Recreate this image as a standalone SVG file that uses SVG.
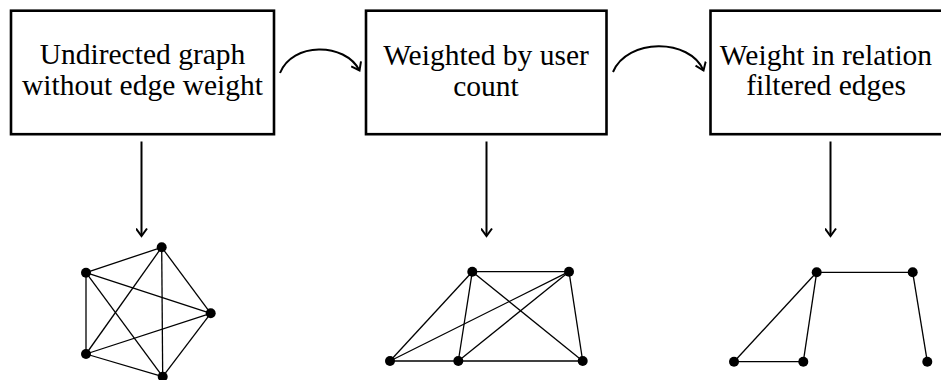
<svg xmlns="http://www.w3.org/2000/svg" width="941" height="380" viewBox="0 0 941 380">
  <style>
    .box { fill: #fff; stroke: #000; stroke-width: 2.6; }
    .label { font-family: "Liberation Serif", "Times New Roman", serif; font-size: 29.5px; fill: #000; text-anchor: middle; }
    .flow { fill: none; stroke: #000; stroke-width: 2; }
    .edge { stroke: #000; stroke-width: 1.3; fill: none; }
    .node { fill: #000; }
  </style>
  <defs>
    <marker id="openHead" viewBox="-10 -6 12 12" markerWidth="12" markerHeight="12" refX="0" refY="0" orient="auto" markerUnits="userSpaceOnUse">
      <path d="M-7.5,-5.5 L0,0 L-7.5,5.5" fill="none" stroke="#000" stroke-width="2" stroke-linejoin="miter"/>
    </marker>
  </defs>

  <!-- process boxes -->
  <g id="step-undirected">
    <rect class="box" x="11" y="10.7" width="263" height="123.5"/>
    <text class="label" x="142.5" y="64">Undirected graph</text>
    <text class="label" x="142.5" y="95">without edge weight</text>
  </g>
  <g id="step-weighted">
    <rect class="box" x="366" y="10.7" width="240.5" height="123.5"/>
    <text class="label" x="486" y="65">Weighted by user</text>
    <text class="label" x="486" y="96">count</text>
  </g>
  <g id="step-filtered">
    <rect class="box" x="710.5" y="10.7" width="240" height="123.5"/>
    <text class="label" x="826" y="65">Weight in relation</text>
    <text class="label" x="826" y="95">filtered edges</text>
  </g>

  <!-- flow connectors -->
  <g id="connectors">
    <path class="flow" d="M280,73 C292,42 345,42 359.5,70.5" marker-end="url(#openHead)"/>
    <path class="flow" d="M613,72 C627,38 690,38 703.5,70.5" marker-end="url(#openHead)"/>
    <path class="flow" d="M141.5,141.5 L141.5,236" marker-end="url(#openHead)"/>
    <path class="flow" d="M486.5,141.5 L486.5,236" marker-end="url(#openHead)"/>
    <path class="flow" d="M830.5,141.5 L830.5,236" marker-end="url(#openHead)"/>
  </g>

  <!-- complete graph on five vertices -->
  <g id="graph-complete">
    <g class="edge">
      <line x1="161.7" y1="247.3" x2="86" y2="272.7"/>
      <line x1="161.7" y1="247.3" x2="210.7" y2="313.3"/>
      <line x1="161.7" y1="247.3" x2="162.7" y2="376.7"/>
      <line x1="161.7" y1="247.3" x2="86" y2="354"/>
      <line x1="86" y1="272.7" x2="86" y2="354"/>
      <line x1="86" y1="272.7" x2="210.7" y2="313.3"/>
      <line x1="86" y1="272.7" x2="162.7" y2="376.7"/>
      <line x1="86" y1="354" x2="210.7" y2="313.3"/>
      <line x1="86" y1="354" x2="162.7" y2="376.7"/>
      <line x1="210.7" y1="313.3" x2="162.7" y2="376.7"/>
    </g>
    <circle class="node" cx="161.7" cy="247.3" r="5"/>
    <circle class="node" cx="86" cy="272.7" r="5"/>
    <circle class="node" cx="210.7" cy="313.3" r="5"/>
    <circle class="node" cx="86" cy="354" r="5"/>
    <circle class="node" cx="162.7" cy="376.7" r="5"/>
  </g>

  <!-- weighted graph -->
  <g id="graph-weighted">
    <g class="edge">
      <line x1="472.3" y1="271.7" x2="569" y2="271.7"/>
      <line x1="472.3" y1="271.7" x2="390" y2="361"/>
      <line x1="472.3" y1="271.7" x2="458.3" y2="361"/>
      <line x1="472.3" y1="271.7" x2="582.7" y2="361"/>
      <line x1="569" y1="271.7" x2="390" y2="361"/>
      <line x1="569" y1="271.7" x2="458.3" y2="361"/>
      <line x1="569" y1="271.7" x2="582.7" y2="361"/>
      <line x1="390" y1="361" x2="582.7" y2="361"/>
    </g>
    <circle class="node" cx="472.3" cy="271.7" r="5"/>
    <circle class="node" cx="569" cy="271.7" r="5"/>
    <circle class="node" cx="390" cy="361" r="5"/>
    <circle class="node" cx="458.3" cy="361" r="5"/>
    <circle class="node" cx="582.7" cy="361" r="5"/>
  </g>

  <!-- filtered graph -->
  <g id="graph-filtered">
    <g class="edge">
      <line x1="816.7" y1="272.3" x2="912.7" y2="272.3"/>
      <line x1="816.7" y1="272.3" x2="734" y2="361.7"/>
      <line x1="816.7" y1="272.3" x2="803.3" y2="361.7"/>
      <line x1="734" y1="361.7" x2="803.3" y2="361.7"/>
      <line x1="912.7" y1="272.3" x2="927.3" y2="361.7"/>
    </g>
    <circle class="node" cx="816.7" cy="272.3" r="5"/>
    <circle class="node" cx="912.7" cy="272.3" r="5"/>
    <circle class="node" cx="734" cy="361.7" r="5"/>
    <circle class="node" cx="803.3" cy="361.7" r="5"/>
    <circle class="node" cx="927.3" cy="361.7" r="5"/>
  </g>
</svg>
